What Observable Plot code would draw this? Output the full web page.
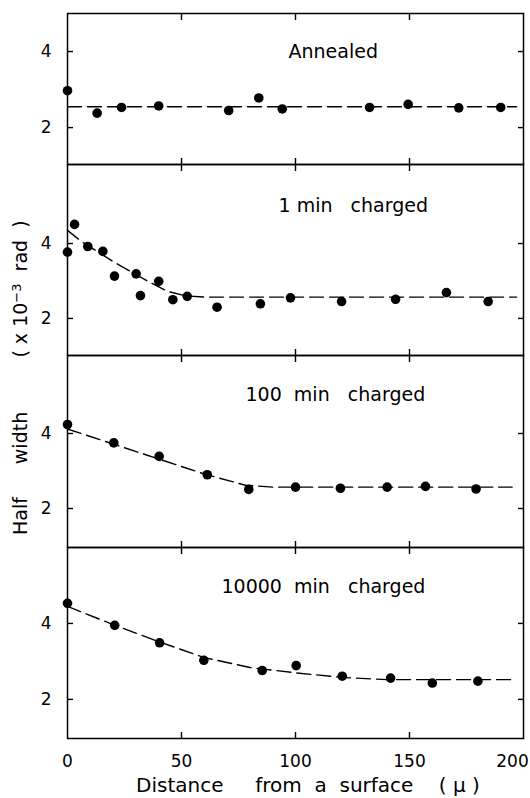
<!DOCTYPE html>
<html><head><meta charset="utf-8">
<script src="https://cdn.jsdelivr.net/npm/d3@7"></script>
<script src="https://cdn.jsdelivr.net/npm/@observablehq/plot@0.6"></script>
<style>
body{margin:0;background:#fff;}
#chart{position:relative;width:530px;height:798px;font-family:"DejaVu Sans",sans-serif;color:#000;overflow:hidden;}
#chart svg{position:absolute;left:0;top:0;background:transparent;overflow:visible;}
#chart svg text{white-space:pre;}
.rot{position:absolute;left:20px;transform:translate(-50%,-50%) rotate(-90deg);font-size:19px;white-space:pre;line-height:1;}
.rot sup{font-size:13px;vertical-align:0.45em;line-height:0;}
.xlab{position:absolute;left:136px;top:775px;font-size:20px;white-space:pre;line-height:1;}
</style></head><body><div id="chart"></div>
<script>
// ---- data ----
const panelLabels = ["Annealed", "1 min   charged", "100  min   charged", "10000  min   charged"];
const xTicks = [0, 50, 100, 150];
const xLastTick = [200];
const xInnerTicks = [50, 100, 150];
const yTicks = [2, 4];

const annealedX = [0, 13, 23.7, 40, 70.7, 83.9, 94.2, 132.5, 149.4, 171.6, 190];
const annealedY = [2.97, 2.38, 2.53, 2.57, 2.45, 2.78, 2.49, 2.53, 2.61, 2.52, 2.53];
const annealedFitX = [0, 197];
const annealedFitY = [2.55, 2.55];

const min1X = [0, 3.1, 8.9, 15.5, 20.6, 30.1, 32, 40, 46.2, 52.5, 65.6, 84.6, 97.8, 120.2, 143.9, 166.2, 184.5];
const min1Y = [3.77, 4.51, 3.92, 3.79, 3.13, 3.19, 2.61, 2.99, 2.50, 2.59, 2.30, 2.39, 2.55, 2.45, 2.51, 2.69, 2.45];
const min1FitX = [0, 6, 20, 35, 44, 52, 60, 197];
const min1FitY = [4.35, 4.06, 3.52, 3.0, 2.72, 2.6, 2.57, 2.57];

const min100X = [0, 20.3, 40.2, 61.3, 79.5, 100, 119.7, 140.2, 157, 179.2];
const min100Y = [4.24, 3.75, 3.39, 2.90, 2.51, 2.57, 2.54, 2.57, 2.59, 2.52];
const min100FitX = [0, 20, 40, 60, 78, 90, 195];
const min100FitY = [4.12, 3.72, 3.32, 2.92, 2.62, 2.57, 2.57];

const min10000X = [0, 20.7, 40.4, 59.8, 85.4, 100.3, 120.5, 141.7, 160, 180];
const min10000Y = [4.53, 3.95, 3.49, 3.03, 2.76, 2.89, 2.61, 2.56, 2.43, 2.48];
const min10000FitX = [0, 20, 40, 60, 80, 100, 120, 140, 195];
const min10000FitY = [4.45, 3.97, 3.52, 3.1, 2.84, 2.7, 2.58, 2.52, 2.52];

// ---- layout (pixel styling) ----
const W = 530, H = 798;
const layout = [
  {top: 13,  bottom: 164, yDomain: [1.03, 5.0],  dx: 221, dy: 31},
  {top: 164, bottom: 355, yDomain: [1.01, 6.11], dx: 211, dy: 34},
  {top: 355, bottom: 547, yDomain: [0.96, 6.08], dx: 178, dy: 32},
  {top: 547, bottom: 738, yDomain: [0.97, 6.0],  dx: 154, dy: 32}
];

const zip = (xs, ys) => xs.map((x, i) => ({x, y: ys[i]}));
const series = [
  {pts: zip(annealedX, annealedY), fit: zip(annealedFitX, annealedFitY)},
  {pts: zip(min1X, min1Y), fit: zip(min1FitX, min1FitY)},
  {pts: zip(min100X, min100Y), fit: zip(min100FitX, min100FitY)},
  {pts: zip(min10000X, min10000Y), fit: zip(min10000FitX, min10000FitY)}
];

const chart = document.getElementById("chart");
series.forEach((s, i) => {
  const L = layout[i];
  const last = i === series.length - 1;
  const svg = Plot.plot({
    width: W, height: H,
    marginLeft: 67, marginRight: W - 523,
    marginTop: L.top, marginBottom: H - L.bottom,
    x: {domain: [0, 200], label: null},
    y: {domain: L.yDomain, label: null},
    style: {fontFamily: "DejaVu Sans, sans-serif", fontSize: "17px", color: "black", background: "transparent", overflow: "visible"},
    marks: [
      Plot.frame({stroke: "black", strokeWidth: 1.5}),
      Plot.axisY(yTicks, {anchor: "left", tickSize: 0, tickPadding: 16, label: null, fontSize: 17}),
      Plot.axisY(yTicks, {anchor: "left", tickSize: -6, text: null, label: null, strokeWidth: 1.4}),
      Plot.axisY(yTicks, {anchor: "right", tickSize: -6, text: null, label: null, strokeWidth: 1.4}),
      Plot.axisX(xInnerTicks, {anchor: "top", tickSize: -6, text: null, label: null, strokeWidth: 1.4}),
      Plot.axisX(xInnerTicks, {anchor: "bottom", tickSize: -6, text: null, label: null, strokeWidth: 1.4}),
      last ? Plot.axisX(xTicks, {anchor: "bottom", tickSize: 0, tickPadding: 16, label: null, fontSize: 17}) : null,
      last ? Plot.axisX(xLastTick, {anchor: "bottom", tickSize: 0, tickPadding: 16, label: null, fontSize: 17, dx: -11}) : null,
      Plot.line(s.fit, {x: "x", y: "y", stroke: "black", strokeWidth: 1.4, strokeDasharray: "14,6"}),
      Plot.dot(s.pts, {x: "x", y: "y", r: 4.8, fill: "black", stroke: "none"}),
      Plot.text([panelLabels[i]], {frameAnchor: "top-left", dx: L.dx, dy: L.dy, textAnchor: "start", lineAnchor: "top", fontSize: 19, fill: "black"})
    ]
  });
  chart.appendChild(svg);
});

// axis titles
const mk = (cls, html, top) => {
  const d = document.createElement("div");
  d.className = cls; d.innerHTML = html;
  if (top != null) d.style.top = top + "px";
  chart.appendChild(d);
};
mk("rot", "Half", 516);
mk("rot", "width", 438);
mk("rot", "( x 10<sup>−3</sup>  rad  )", 289);
mk("xlab", "Distance     from  a  surface    ( μ )");
</script>
</body></html>
